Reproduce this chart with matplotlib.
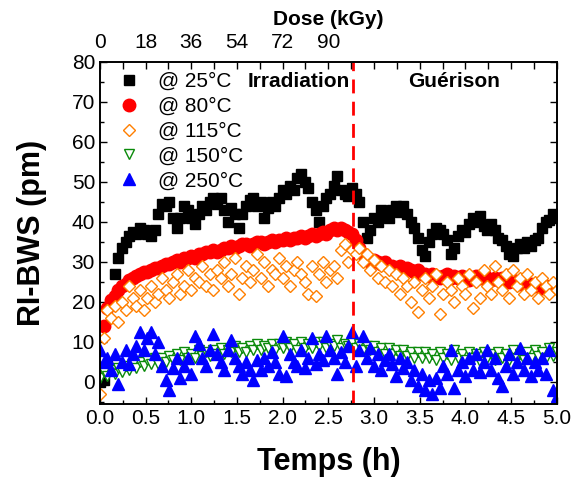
import numpy as np
import matplotlib
matplotlib.use("Agg")
import matplotlib.pyplot as plt
from matplotlib.ticker import MultipleLocator

plt.rcParams['font.family'] = ['Liberation Sans', 'DejaVu Sans']

# RI-BWS (pm) sampled every 0.04 h, 0 -> 5 h
rt_25 = [0, 0.5, 4, 20, 27, 31, 33.5, 35, 36.5, 37.5,
         37, 38.5, 38, 37, 36.5, 38, 42, 44.5, 44, 45,
         41, 38.5, 41, 44, 43, 41, 39.5, 42, 44, 43,
         45, 46, 44.5, 46, 43, 40, 43.5, 42, 38.5, 42,
         44, 45.5, 46, 44, 45, 41, 43.5, 45, 44, 46,
         48, 47, 49, 48, 51, 52, 50, 48.5, 45, 43,
         40, 44, 46, 47, 49, 51.5, 48, 47, 46.5, 48.5,
         47, 45, 40, 36, 38, 41, 40, 43, 42, 41,
         43, 44, 42.5, 44, 42, 40, 38.5, 36, 33, 31.5,
         35, 37, 38.5, 38, 37, 35.5, 32, 33.5, 36.5, 38,
         37.5, 39.5, 41, 40, 41.5, 39, 38, 39.5, 38, 36,
         35.5, 34, 32, 31.5, 33.5, 34.5, 33.5, 35, 34, 35.5,
         36, 38.5, 40, 40.5, 42, 41]
rt_80 = [3, 14, 18.5, 20.5, 21.5, 23, 24, 24.5, 25.5, 26,
         26.5, 27, 27.5, 27.5, 28, 28.5, 28.5, 29, 29.5, 29.5,
         30, 30.5, 30, 31, 31, 31.5, 31, 32, 32, 32.5,
         32.5, 33, 32.5, 33, 33.5, 33.5, 34, 33.5, 34, 34.5,
         34.5, 34, 34.5, 35, 35, 34.5, 35, 35.5, 35, 35.5,
         35.5, 36, 35.5, 36, 36, 36.5, 36, 36.5, 37, 36.5,
         37, 37.5, 37, 38, 38.5, 38, 38.5, 38, 37.5, 37,
         35.5, 33.5, 32, 31, 30, 30.5, 30, 29.5, 30, 29,
         29, 28.5, 29, 28, 28.5, 28, 27.5, 28, 27, 27,
         26.5, 27, 26.5, 26, 26.5, 27, 26, 26.5, 26, 26.5,
         26, 25.5, 26, 26.5, 26, 27, 26, 25.5, 26, 25.5,
         26, 25.5, 25, 25.5, 25, 24.5, 25, 24, 24.5, 24,
         24.5, 23.5, 24, 23.5, 24, 23.5]
rt_115 = [-3, 11, 18, 16, 19, 15, 20, 18, 24, 21,
          19, 23, 18, 21, 24, 20, 22, 26, 23, 21,
          25, 27, 22, 24, 28, 23, 26, 25, 29, 24,
          27, 23, 28, 26, 30, 24, 27, 31, 22, 26,
          29, 25, 28, 32, 26, 30, 24, 28, 27, 31,
          26, 29, 24, 28, 30, 27, 25, 22, 29, 21.5,
          27, 30, 25, 28, 29, 26, 33, 34.5, 30, 33,
          32, 33.5, 30, 32, 28, 30.5, 26, 29, 25, 28,
          24, 27, 22, 26, 24, 20, 25, 17.5, 23, 26,
          21, 24, 27, 17, 22, 25, 23, 20, 26, 24,
          22, 27, 18.5, 25, 21, 28, 24, 22, 29, 25,
          23, 27, 21, 28, 24, 26, 22, 27, 23, 25,
          21, 26, 24, 22, 25, 23]
rt_150 = [1, 2.5, 1.5, 3, 2, 3.5, 2.5, 4, 3, 4.5,
          3.5, 5, 4, 5.5, 4.5, 6, 4.5, 6, 5, 6.5,
          5.5, 7, 5.5, 7.5, 6, 7, 6, 8, 6.5, 7.5,
          6.5, 8, 7, 8.5, 7, 8, 7.5, 9, 7.5, 8.5,
          7.5, 9, 8, 9.5, 8, 9, 8.5, 9.5, 8, 9.5,
          8.5, 10, 8.5, 9.5, 8, 10, 8.5, 9.5, 8.5, 10,
          9, 10, 8.5, 9.5, 9, 10.5, 8.5, 9.5, 9, 10,
          8.5, 9.5, 8, 9, 8, 9, 7.5, 8.5, 7, 8.5,
          7, 8, 6.5, 8, 6.5, 7.5, 6, 7.5, 6, 7.5,
          6, 7, 5.5, 7.5, 6, 7, 5.5, 8, 6, 7,
          5.5, 7.5, 6, 7, 5, 7.5, 6, 7, 5.5, 7.5,
          6, 7, 5.5, 8, 6, 7, 5.5, 7.5, 6, 8,
          6.5, 7.5, 6, 8.5, 6.5, 7.5]
rt_250 = [8, 5, 6, 3, 7, -0.5, 5, 8, 4.5, 7,
          9, 12.5, 8, 11, 12.5, 7, 10, 4, 0.5, -2,
          3.5, 6, 1, 4, 6, 2, 11.5, 9.5, 6, 4,
          8, 12, 7, 5, 3, 8, 10.5, 6, 4, 2,
          5, 3, 0.5, 5.5, 3, 6, 4, 7.5, 5, 2,
          11.5, 1.5, 7, 5, 4, 8, 3.5, 6, 11, 4.5,
          7, 5.5, 11.5, 8, 6, 2, 7.5, 5, 9, 12.5,
          4, 8, 11.5, 6, 8.5, 4, 7, 3, 5.5, 7,
          4.5, 1.5, 6, 3.5, 5, 0.5, 3, -1, 2, -2,
          0.5, -3, 1, -1.5, 4, 2, 8, -1.5, 3, 5,
          1.5, 6, 3, 7, 2.5, 5, 8, 3, 6, 1,
          -1, 4, 7, 2, 5, 8.5, 3, 6, 1.5, 5,
          3, 6, 2, 8, -2, -3.5]
temps = np.linspace(0, 5, len(rt_25))

dose_ticks = [0, 0.5, 1.0, 1.5, 2.0, 2.5]
dose_labels = ['0', '18', '36', '54', '72', '90']
t_cure = 2.77

fig = plt.figure(figsize=(5.71, 4.79), dpi=100)
ax = fig.add_axes([0.175, 0.157, 0.8, 0.714])

ax.plot(temps, rt_25, 's', color='black', ms=7.5, label='@ 25°C')
ax.plot(temps, rt_80, 'o', color='red', ms=9, label='@ 80°C')
ax.plot(temps, rt_115, 'D', mfc='white', mec='#ff7f00', mew=1.0, ms=6.5, label='@ 115°C')
ax.plot(temps, rt_150, 'v', mfc='white', mec='#0a8a0a', mew=1.0, ms=7.5, label='@ 150°C')
ax.plot(temps, rt_250, '^', color='blue', ms=8, label='@ 250°C')

ax.axvline(t_cure, color='red', ls=(0, (5, 3)), lw=2)
ax.text(t_cure - 0.03, 75, 'Irradiation', ha='right', va='center', fontsize=15, fontweight='bold')
ax.text(3.88, 75, 'Guérison', ha='center', va='center', fontsize=15, fontweight='bold')

ax.set_xlim(0, 5)
ax.set_ylim(-5.5, 80)
ax.xaxis.set_major_locator(MultipleLocator(0.5))
ax.xaxis.set_minor_locator(MultipleLocator(0.25))
ax.yaxis.set_major_locator(MultipleLocator(10))
ax.yaxis.set_minor_locator(MultipleLocator(5))
ax.tick_params(which='both', direction='in', right=True, labelsize=15, width=1)
ax.tick_params(which='major', length=5)
ax.tick_params(which='minor', length=3)
ax.set_xlabel('Temps (h)', fontsize=22, fontweight='bold', labelpad=14)
ax.set_ylabel('RI-BWS (pm)', fontsize=22, fontweight='bold', labelpad=18)

# top axis: dose
ax2 = ax.twiny()
ax2.set_xlim(0, 5)
ax2.set_xticks(dose_ticks)
ax2.set_xticklabels(dose_labels)
ax2.xaxis.set_minor_locator(MultipleLocator(0.25))
ax2.tick_params(which='both', direction='in', labelsize=15, width=1, pad=7)
ax2.tick_params(which='major', length=5)
ax2.tick_params(which='minor', length=5)
ax2.set_xlabel('Dose (kGy)', fontsize=15, fontweight='bold', labelpad=6)

ax.legend(loc='upper left', frameon=False, fontsize=15, handletextpad=0.5,
          borderaxespad=0.1, labelspacing=0.28, handlelength=1.8,
          bbox_to_anchor=(0.0, 1.0))

for a in (ax, ax2):
    for s in a.spines.values():
        s.set_linewidth(1.2)

fig.savefig('out.png', dpi=100)
